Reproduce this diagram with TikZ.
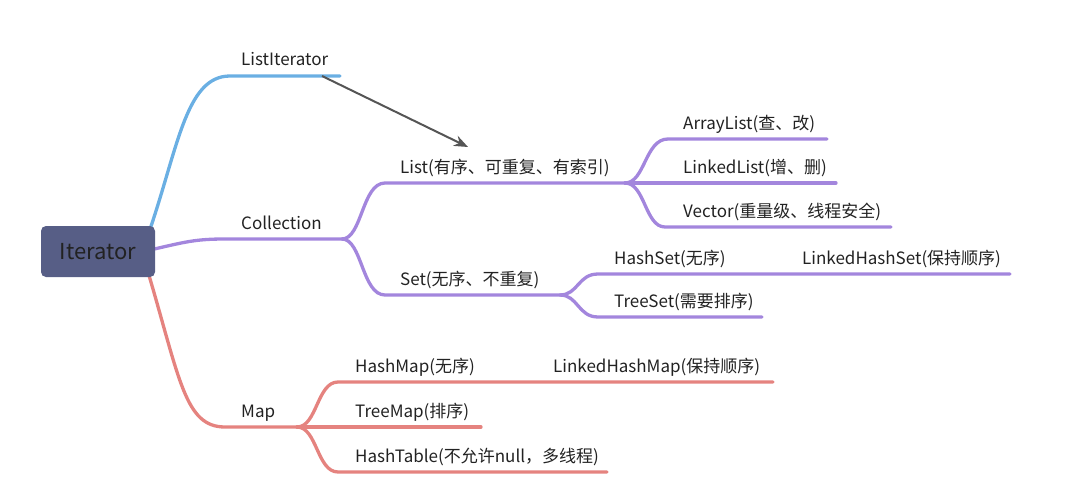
\documentclass[tikz,border=0pt]{standalone}
\usepackage{fontspec}
\setmainfont{Noto Sans CJK SC}
\usetikzlibrary{arrows.meta}
\definecolor{cblue}{HTML}{6AAFE3}
\definecolor{cpurple}{HTML}{A386DD}
\definecolor{cred}{HTML}{E5837F}
\definecolor{cbox}{HTML}{575E86}
\definecolor{ctext}{HTML}{222222}
\definecolor{carrow}{HTML}{555555}
\begin{document}
\begin{tikzpicture}[x=1pt,y=-1pt,
  lbl/.style={anchor=base west,inner sep=0pt,text=ctext,font=\fontsize{17}{20}\selectfont},
  branch/.style={line width=3.3pt,line cap=round},
  rootbox/.style={fill=cbox,rounded corners=5pt,minimum width=114pt,minimum height=51pt,inner sep=0pt,text=ctext,font=\fontsize{22}{26}\selectfont},
  link/.style={line width=2pt,carrow,-{Stealth[length=14pt,width=11pt]}}]
\useasboundingbox (0,0) rectangle (1073,495);
% coordinates
\coordinate (bS) at (147,238);
\coordinate (liL) at (230,76);
\coordinate (liR) at (340,76);
\coordinate (pS) at (150,250);
\coordinate (colL) at (225,239);
\coordinate (colF) at (342,239);
\coordinate (lsL) at (385,183);
\coordinate (lsF) at (625,183);
\coordinate (stL) at (385,295);
\coordinate (stF) at (560,295);
\coordinate (alL) at (668,139);
\coordinate (alR) at (827,139);
\coordinate (llR) at (836,183);
\coordinate (vcL) at (665,227);
\coordinate (vcR) at (891,227);
\coordinate (hsL) at (598,274);
\coordinate (hsR) at (1010,274);
\coordinate (tsL) at (598,317);
\coordinate (tsR) at (762,317);
\coordinate (rS) at (148,272);
\coordinate (mpL) at (225,427);
\coordinate (mpF) at (297,427);
\coordinate (hmL) at (338,382);
\coordinate (hmR) at (773,382);
\coordinate (tmR) at (481,427);
\coordinate (htL) at (338,472);
\coordinate (htR) at (607,472);
\coordinate (arS) at (322,76);
\coordinate (arE) at (468,147);
% branches
\draw[branch,cblue] (bS) .. controls (178,150) and (185,76) .. (liL) -- (liR);
\draw[branch,cpurple] (pS) .. controls (185,242) and (195,239) .. (colL) -- (colF);
\draw[branch,cpurple] (colF) .. controls (362,239) and (362,183) .. (lsL) -- (lsF);
\draw[branch,cpurple] (colF) .. controls (362,239) and (362,295) .. (stL) -- (stF);
\draw[branch,cpurple] (lsF) .. controls (645,183) and (645,139) .. (alL) -- (alR);
\draw[branch,cpurple] (lsF) -- (llR);
\draw[branch,cpurple] (lsF) .. controls (645,183) and (645,227) .. (vcL) -- (vcR);
\draw[branch,cpurple] (stF) .. controls (578,295) and (578,274) .. (hsL) -- (hsR);
\draw[branch,cpurple] (stF) .. controls (578,295) and (578,317) .. (tsL) -- (tsR);
\draw[branch,cred] (rS) .. controls (180,380) and (185,427) .. (mpL) -- (mpF);
\draw[branch,cred] (mpF) .. controls (317,427) and (317,382) .. (hmL) -- (hmR);
\draw[branch,cred] (mpF) -- (tmR);
\draw[branch,cred] (mpF) .. controls (317,427) and (317,472) .. (htL) -- (htR);
% root
\node[rootbox] (root) at (98,251.5) {\raisebox{-1.5pt}{Iterator}};
% labels
\node[lbl] (listit) at (241,66) {ListIterator};
\node[lbl] (coll) at (241,229) {Collection};
\node[lbl] (list) at (400,173) {List(有序、可重复、有索引)};
\node[lbl] (arr) at (683,129) {ArrayList(查、改)};
\node[lbl] (lnk) at (683,173) {LinkedList(增、删)};
\node[lbl] (vec) at (683,217) {Vector(重量级、线程安全)};
\node[lbl] (set) at (400,285) {Set(无序、不重复)};
\node[lbl] (hset) at (614,264) {HashSet(无序)};
\node[lbl] (lhset) at (802,264) {LinkedHashSet(保持顺序)};
\node[lbl] (tset) at (614,307) {TreeSet(需要排序)};
\node[lbl] (map) at (241,417) {Map};
\node[lbl] (hmap) at (355,372) {HashMap(无序)};
\node[lbl] (lhmap) at (553,372) {LinkedHashMap(保持顺序)};
\node[lbl] (tmap) at (355,417) {TreeMap(排序)};
\node[lbl] (htab) at (355,462) {HashTable(不允许null，多线程)};
% arrow
\draw[link] (arS) -- (arE);
\end{tikzpicture}
\end{document}
